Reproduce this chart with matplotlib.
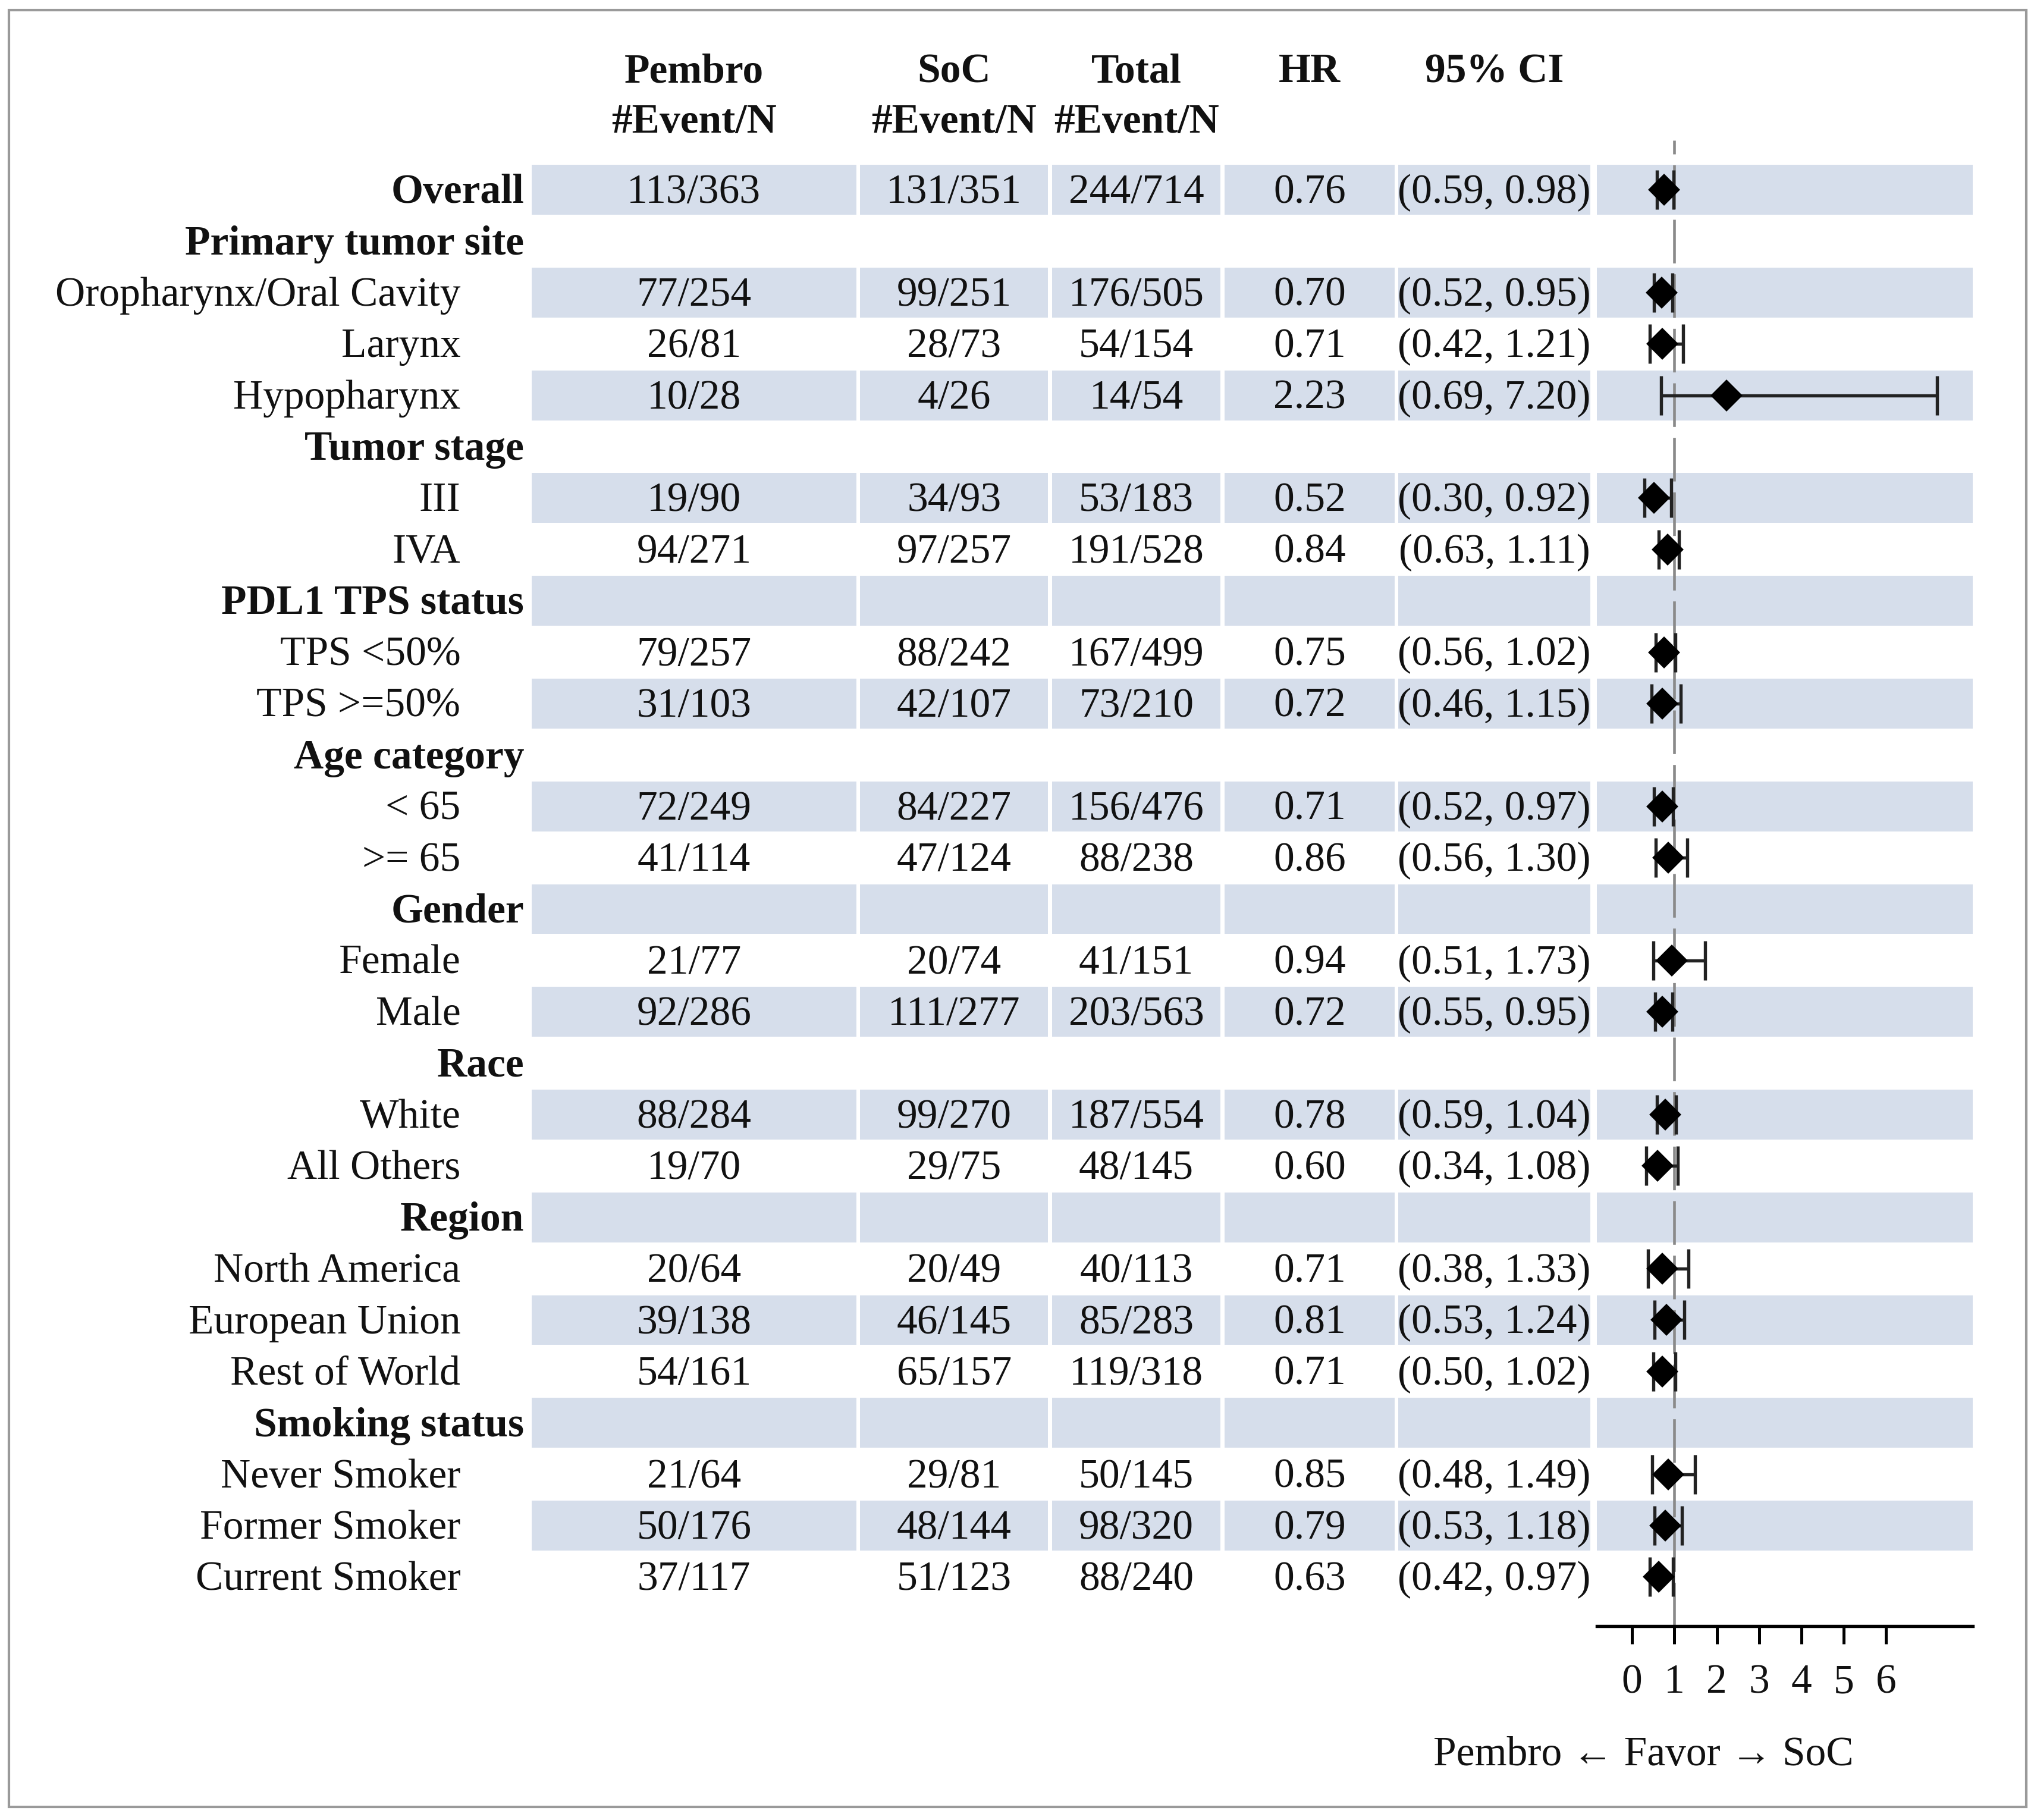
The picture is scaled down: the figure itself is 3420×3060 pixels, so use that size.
import numpy as np
import matplotlib
matplotlib.use("Agg")
import matplotlib.pyplot as plt
from matplotlib.patches import Rectangle

plt.rcParams['font.family'] = ['Liberation Serif', 'DejaVu Serif']

nan = np.nan

# table rows
labels = ["Overall", "Primary tumor site", "Oropharynx/Oral Cavity", "Larynx", "Hypopharynx",
          "Tumor stage", "III", "IVA", "PDL1 TPS status", "TPS <50%", "TPS >=50%",
          "Age category", "< 65", ">= 65", "Gender", "Female", "Male", "Race", "White",
          "All Others", "Region", "North America", "European Union", "Rest of World",
          "Smoking status", "Never Smoker", "Former Smoker", "Current Smoker"]
bold_rows = ["Overall", "Primary tumor site", "Tumor stage", "PDL1 TPS status", "Age category",
             "Gender", "Race", "Region", "Smoking status"]

pembro = ["113/363", "", "77/254", "26/81", "10/28", "", "19/90", "94/271", "", "79/257", "31/103",
          "", "72/249", "41/114", "", "21/77", "92/286", "", "88/284", "19/70", "", "20/64",
          "39/138", "54/161", "", "21/64", "50/176", "37/117"]
soc = ["131/351", "", "99/251", "28/73", "4/26", "", "34/93", "97/257", "", "88/242", "42/107",
       "", "84/227", "47/124", "", "20/74", "111/277", "", "99/270", "29/75", "", "20/49",
       "46/145", "65/157", "", "29/81", "48/144", "51/123"]
total = ["244/714", "", "176/505", "54/154", "14/54", "", "53/183", "191/528", "", "167/499", "73/210",
         "", "156/476", "88/238", "", "41/151", "203/563", "", "187/554", "48/145", "", "40/113",
         "85/283", "119/318", "", "50/145", "98/320", "88/240"]
hr = np.array([0.76, nan, 0.70, 0.71, 2.23, nan, 0.52, 0.84, nan, 0.75, 0.72, nan, 0.71, 0.86,
               nan, 0.94, 0.72, nan, 0.78, 0.60, nan, 0.71, 0.81, 0.71, nan, 0.85, 0.79, 0.63])
lo = np.array([0.59, nan, 0.52, 0.42, 0.69, nan, 0.30, 0.63, nan, 0.56, 0.46, nan, 0.52, 0.56,
               nan, 0.51, 0.55, nan, 0.59, 0.34, nan, 0.38, 0.53, 0.50, nan, 0.48, 0.53, 0.42])
hi = np.array([0.98, nan, 0.95, 1.21, 7.20, nan, 0.92, 1.11, nan, 1.02, 1.15, nan, 0.97, 1.30,
               nan, 1.73, 0.95, nan, 1.04, 1.08, nan, 1.33, 1.24, 1.02, nan, 1.49, 1.18, 0.97])

col_headers = [("Pembro", "#Event/N"), ("SoC", "#Event/N"), ("Total", "#Event/N"), ("HR", ""), ("95% CI", "")]
xticks = [0, 1, 2, 3, 4, 5, 6]
xlab = "Pembro \u2190 Favor \u2192 SoC"

# layout (in reference pixel units, 1568 x 1400 canvas)
W, H = 1568, 1400
y0, pitch = 146, 39.52
cols = [(410, 660), (663, 808), (811, 941), (944, 1075), (1078, 1226)]
forest_col = (1231, 1521)
axis_y, ref_top = 1251, 108
fs = 16.7
shade = '#D6DEEB'
txt = '#111111'

fig = plt.figure(figsize=(11.4, 10.2), dpi=300)
ax = fig.add_axes([0, 0, 1, 1])
ax.set_xlim(0, W)
ax.set_ylim(H, 0)
ax.axis('off')

n = len(labels)
rows_px = y0 + pitch * np.arange(n)

# row shading
for i in range(0, n, 2):
    for l, r in cols + [forest_col]:
        ax.barh(rows_px[i], r - l, left=l, height=pitch * 0.97, color=shade, lw=0, zorder=0)

# header
for (l, r), (h1, h2) in zip(cols, col_headers):
    cx = (l + r) / 2
    ax.text(cx, 52, h1, ha='center', va='center_baseline', fontsize=fs, fontweight='bold', color=txt)
    if h2:
        ax.text(cx, 91, h2, ha='center', va='center_baseline', fontsize=fs, fontweight='bold', color=txt)

ci_txt = ["" if np.isnan(h) else f"({a:.2f}, {b:.2f})" for h, a, b in zip(hr, lo, hi)]
hr_txt = ["" if np.isnan(h) else f"{h:.2f}" for h in hr]

for i, lab in enumerate(labels):
    y = rows_px[i] - 1
    if lab in bold_rows:
        ax.text(404, y, lab, ha='right', va='center_baseline', fontsize=fs, fontweight='bold', color=txt)
    else:
        ax.text(355, y, lab, ha='right', va='center_baseline', fontsize=fs, color=txt)
    for (l, r), vals in zip(cols, [pembro, soc, total, hr_txt, ci_txt]):
        ax.text((l + r) / 2, y, vals[i], ha='center', va='center_baseline', fontsize=fs, color=txt)

ax.text(1267, 1347, xlab, ha='center', va='center_baseline', fontsize=fs, color=txt)

# outer border
ax.add_patch(Rectangle((7, 8), 1555, 1382, fill=False, ec='#9a9a9a', lw=1.0, zorder=5))

# forest plot
fl = forest_col[0] / W
fw = (forest_col[1] - forest_col[0]) / W
fb = 1 - axis_y / H
fh = (axis_y - ref_top) / H
axf = fig.add_axes([fl, fb, fw, fh])
axf.patch.set_alpha(0)
axf.set_xlim(-0.83, 8.05)
axf.set_ylim((axis_y - y0) / pitch, (ref_top - y0) / pitch)
for s in ['top', 'left', 'right']:
    axf.spines[s].set_visible(False)
axf.spines['bottom'].set_linewidth(1.3)
axf.set_yticks([])
axf.set_xticks(xticks)
axf.tick_params(axis='x', length=7.2, width=1.2, pad=8, labelsize=fs, labelcolor=txt)

axf.axvline(1, color='#8a8a8a', lw=1.1, ls=(0, (16, 4)), zorder=1)
idx = np.arange(n)
ok = ~np.isnan(hr)
axf.errorbar(hr[ok], idx[ok], xerr=[hr[ok] - lo[ok], hi[ok] - hr[ok]], fmt='D', color='black',
             ecolor='#222222', elinewidth=1.3, capsize=8, capthick=1.3, markersize=8.2, zorder=3)

fig.savefig('out.png', dpi=300)
